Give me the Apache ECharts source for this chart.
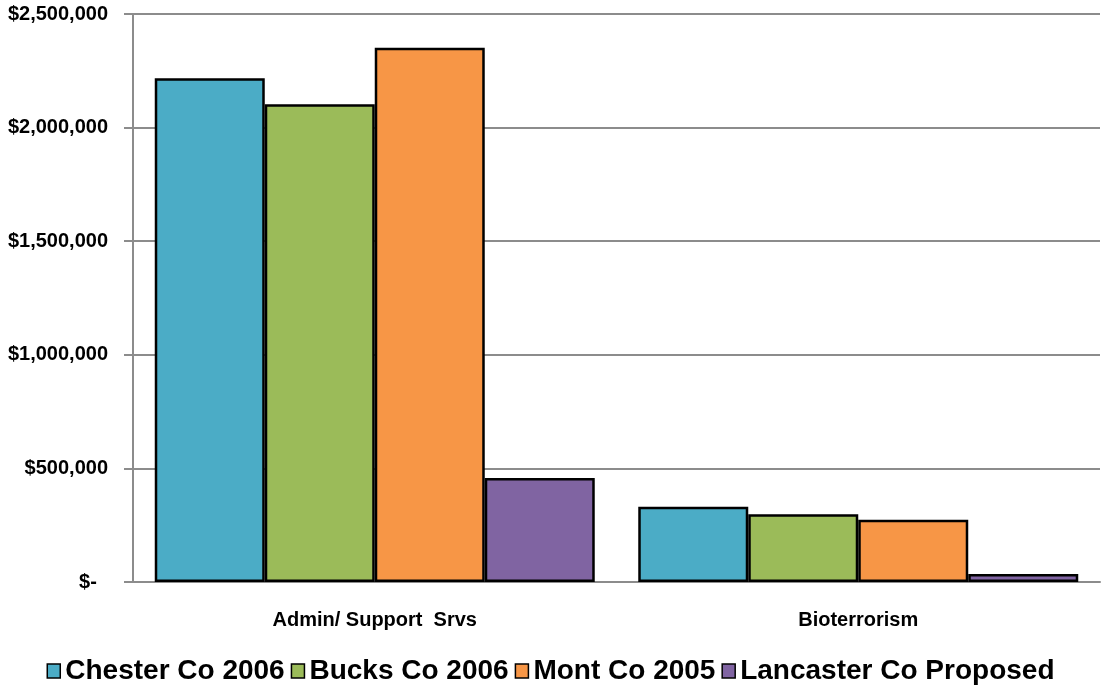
<!DOCTYPE html>
<html>
<head>
<meta charset="utf-8">
<script src="https://cdn.jsdelivr.net/npm/echarts@6/dist/echarts.min.js"></script>
<style>
html,body{margin:0;padding:0;background:#fff;}
#chart{width:1101px;height:692px;}
</style>
</head>
<body>
<div id="chart"></div>
<script>
const categories = ['Admin/ Support  Srvs', 'Bioterrorism'];
const seriesNames = ['Chester Co 2006', 'Bucks Co 2006', 'Mont Co 2005', 'Lancaster Co Proposed'];
const chester = [2217000, 331000];
const bucks = [2103000, 298000];
const mont = [2352000, 274000];
const lancaster = [458000, 35000];
const colors = ['#4BACC6', '#9BBB59', '#F79646', '#8064A2'];
const yTicks = { min: 0, max: 2500000, interval: 500000 };

const allData = [chester, bucks, mont, lancaster];

function fmt(v) {
  if (v === 0) return '$-  ';
  return '$' + v.toLocaleString('en-US');
}

const chart = echarts.init(document.getElementById('chart'), null, { renderer: 'canvas' });
chart.setOption({
  animation: false,
  backgroundColor: '#ffffff',
  grid: { left: 133, right: 1, top: 14, bottom: 110, containLabel: false },
  legend: {
    bottom: 2,
    left: 'center',
    itemWidth: 13,
    itemHeight: 14,
    itemGap: 6,
    icon: 'rect',
    textStyle: {
      fontFamily: '"Liberation Sans", Arial, sans-serif',
      fontWeight: 'bold',
      fontSize: 28,
      color: '#000',
      padding: [0, 0, 0, 0]
    },
    data: seriesNames.map((n, i) => ({ name: n, itemStyle: { color: colors[i], borderColor: '#000', borderWidth: 1.5 } }))
  },
  xAxis: {
    type: 'category',
    data: categories,
    axisLine: { show: true, lineStyle: { color: '#8c8c8c', width: 2 } },
    axisTick: { show: false },
    axisLabel: {
      margin: 28,
      fontFamily: '"Liberation Sans", Arial, sans-serif',
      fontWeight: 'bold',
      fontSize: 20,
      color: '#000'
    }
  },
  yAxis: {
    type: 'value',
    min: yTicks.min,
    max: yTicks.max,
    interval: yTicks.interval,
    axisLine: { show: true, lineStyle: { color: '#8c8c8c', width: 2 } },
    axisTick: { show: true, length: 9, lineStyle: { color: '#8c8c8c', width: 2 } },
    splitLine: { show: true, lineStyle: { color: '#8c8c8c', width: 2 } },
    axisLabel: {
      margin: 25,
      formatter: fmt,
      fontFamily: '"Liberation Sans", Arial, sans-serif',
      fontWeight: 'bold',
      fontSize: 20,
      color: '#000'
    }
  },
  series: seriesNames.map((n, i) => ({
    name: n,
    type: 'bar',
    data: allData[i],
    barGap: '0%',
    barCategoryGap: '9%',
    itemStyle: { color: colors[i], borderColor: '#000', borderWidth: 2.5 }
  }))
});
</script>
</body>
</html>
